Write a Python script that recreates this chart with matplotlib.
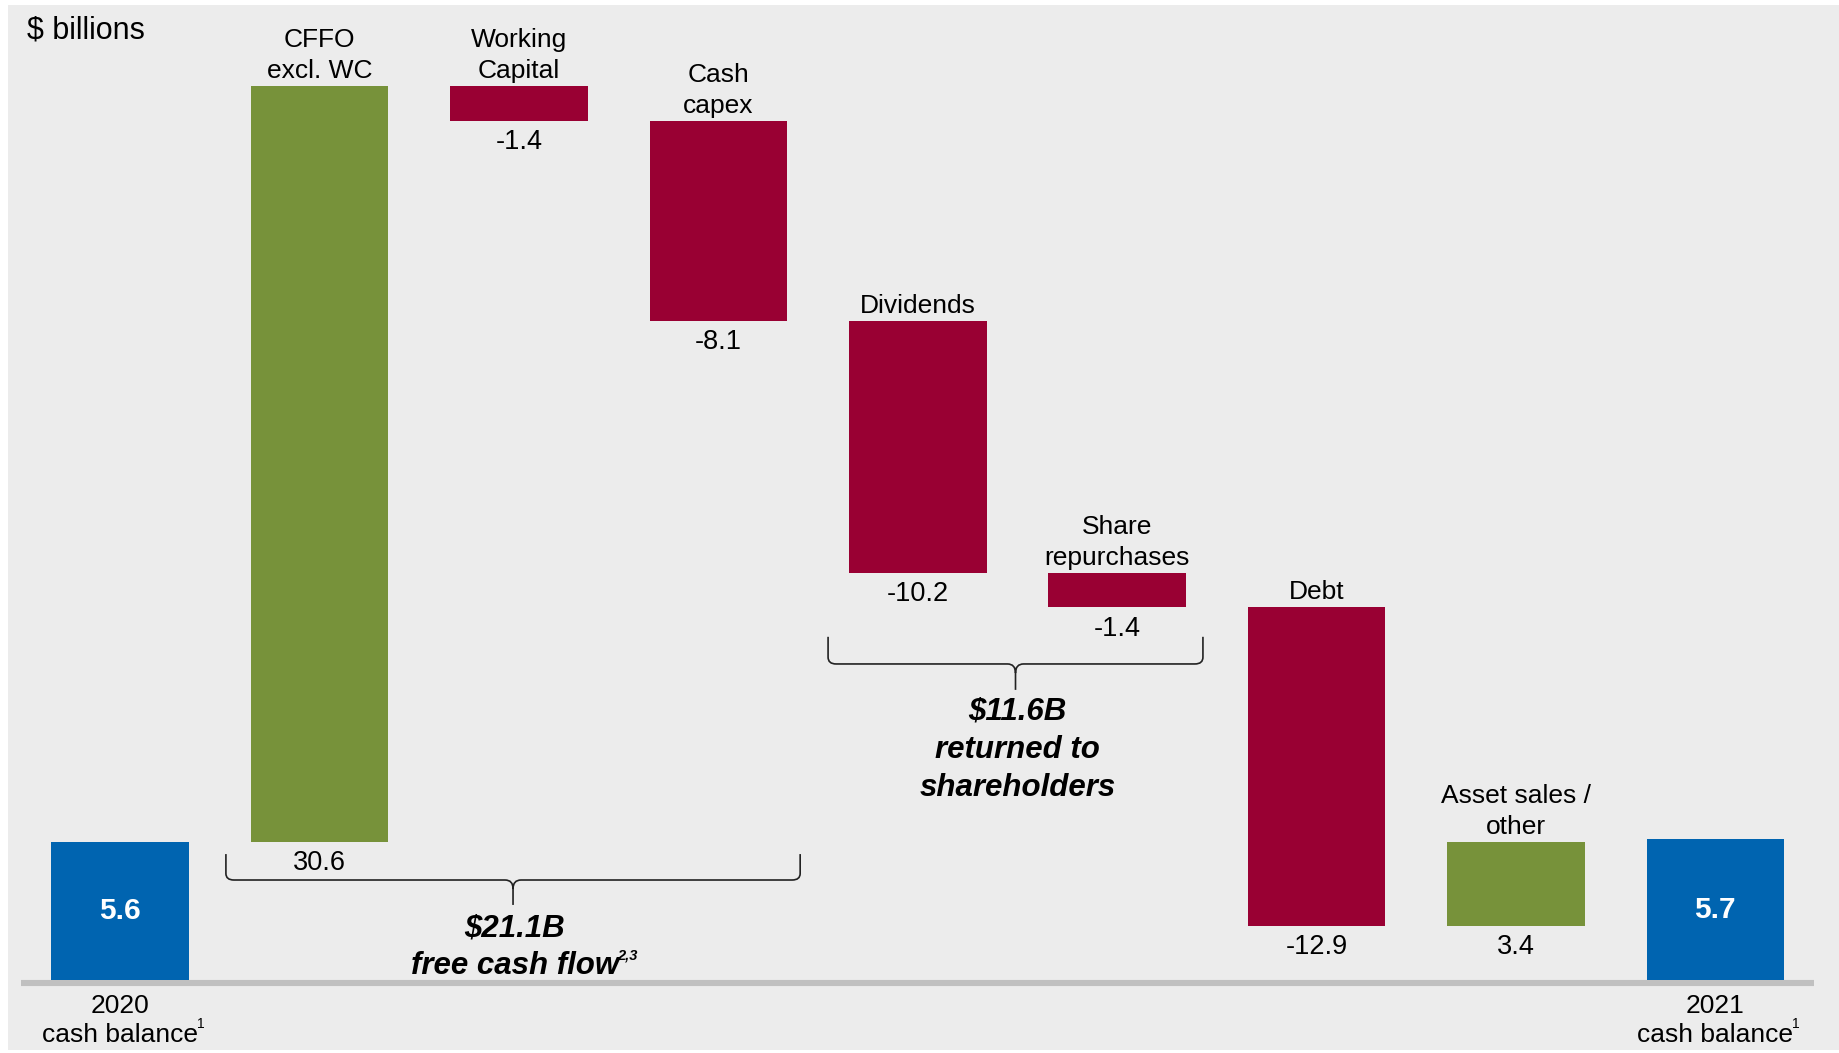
import matplotlib.pyplot as plt
from matplotlib.patches import Rectangle
from matplotlib.path import Path
from matplotlib.patches import PathPatch

plt.rcParams['font.family'] = ['Liberation Sans', 'DejaVu Sans']

# data ($ billions)
labels = ['2020\ncash balance', 'CFFO\nexcl. WC', 'Working\nCapital', 'Cash\ncapex',
          'Dividends', 'Share\nrepurchases', 'Debt', 'Asset sales /\nother',
          '2021\ncash balance']
values = [5.6, 30.6, -1.4, -8.1, -10.2, -1.4, -12.9, 3.4, 5.7]
kinds = ['total', 'step', 'step', 'step', 'step', 'step', 'step', 'step', 'total']

GREEN = '#77923a'
RED = '#990033'
BLUE = '#0064b0'
BG = '#ececec'

fig = plt.figure(figsize=(18.39, 10.53), dpi=100)
fig.patch.set_facecolor('white')
fig.patches.append(Rectangle((8 / 1839, 3 / 1053), 1 - 8 / 1839, 1 - 8 / 1053,
                             transform=fig.transFigure, facecolor=BG,
                             edgecolor='none', zorder=-10))

ax = fig.add_axes([0, (1053 - 980) / 1053, 1, 980 / 1053])
ax.patch.set_alpha(0)
ax.set_xlim(-0.603, 8.62)
ax.set_ylim(0, 980 / 24.69)
ax.axis('off')

W = 0.69
cum = 0
for i, (lab, v, k) in enumerate(zip(labels, values, kinds)):
    if k == 'total':
        ax.bar(i, v, width=W, color=BLUE, zorder=3)
        ax.text(i, v / 2, f'{v:.1f}', color='white', fontsize=21.5,
                fontweight='bold', ha='center', va='center', zorder=4)
        t = ax.annotate(lab, (i, 0), xytext=(0, -10), textcoords='offset points',
                        ha='center', va='top', fontsize=19, linespacing=1.26)
        ax.annotate('1', xy=(1, 0.3), xycoords=t, xytext=(-1, 0),
                    textcoords='offset points', ha='left', va='bottom',
                    fontsize=10)
        cum = v
    else:
        lo, hi = (cum, cum + v) if v > 0 else (cum + v, cum)
        ax.bar(i, hi - lo, bottom=lo, width=W, color=GREEN if v > 0 else RED,
               zorder=3)
        ax.annotate(lab, (i, hi), xytext=(0, 2), textcoords='offset points',
                    ha='center', va='bottom', fontsize=19, linespacing=1.38)
        ax.annotate(f'{v:.1f}', (i, lo), xytext=(0, -6), textcoords='offset points',
                    ha='center', va='top', fontsize=19.5)
        cum += v

# baseline
ax.plot([-0.5, 8.495], [-0.12, -0.12], color='#c0c0c0', lw=4.4,
        solid_capstyle='butt', clip_on=False, zorder=2)


def brace(x0, x1, ytop, yline, ytip):
    xm = (x0 + x1) / 2
    r = 0.04
    dy = (ytop - yline)
    verts = [(x0, ytop), (x0, yline + 0.25 * dy), (x0, yline), (x0 + r, yline),
             (xm - r, yline), (xm, yline), (xm, yline - 0.35 * (yline - ytip)),
             (xm, ytip),
             (xm, yline - 0.35 * (yline - ytip)), (xm, yline), (xm + r, yline),
             (x1 - r, yline), (x1, yline), (x1, yline + 0.25 * dy), (x1, ytop)]
    codes = [Path.MOVETO, Path.LINETO, Path.CURVE3, Path.CURVE3,
             Path.LINETO, Path.CURVE3, Path.CURVE3, Path.LINETO,
             Path.MOVETO, Path.CURVE3, Path.CURVE3,
             Path.LINETO, Path.CURVE3, Path.CURVE3, Path.LINETO]
    ax.add_patch(PathPatch(Path(verts, codes), fill=False, lw=1.2,
                           edgecolor='#222222', zorder=5))


brace(1 - 0.47, 3 + 0.41, 5.1, 4.05, 3.04)
brace(4 - 0.45, 5 + 0.43, 13.9, 12.8, 11.75)

bi = dict(fontsize=22.5, fontweight='bold', fontstyle='italic', ha='center',
          va='center')
ax.text(1.98, 2.07, '$21.1B', **bi)
t = ax.text(1.98, 0.58, 'free cash flow', **bi)
ax.annotate('2,3', xy=(1, 0.62), xycoords=t, xytext=(-1, 0),
            textcoords='offset points', ha='left', va='bottom', fontsize=10.5,
            fontweight='bold', fontstyle='italic')
ax.text(4.5, 9.32, '$11.6B\nreturned to\nshareholders', linespacing=1.36, **bi)

ax.text(-0.47, 38.45, '$ billions', fontsize=22, ha='left', va='center')

fig.savefig('out.png', dpi=100, facecolor=fig.get_facecolor())
